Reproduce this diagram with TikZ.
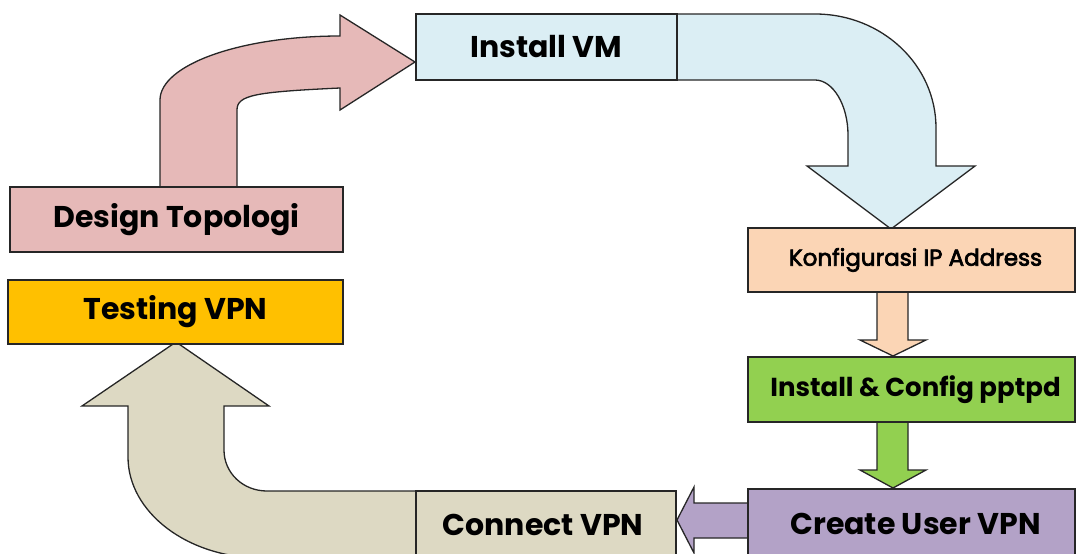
\documentclass[tikz,border=0pt]{standalone}
\usepackage{fontspec}
\setmainfont{Poppins}
\newfontfamily\mediumface{Poppins}[FakeBold=3]
\usetikzlibrary{calc}
\definecolor{pinkfill}{HTML}{E6B9B8}
\definecolor{bluefill}{HTML}{DBEEF4}
\definecolor{peachfill}{HTML}{FBD5B5}
\definecolor{greenfill}{HTML}{92D050}
\definecolor{purplefill}{HTML}{B3A2C7}
\definecolor{beigefill}{HTML}{DDD9C3}
\definecolor{yellowfill}{HTML}{FFC000}
\definecolor{edge}{HTML}{262626}
\begin{document}
\begin{tikzpicture}[x=1pt,y=-1pt,
  stage/.style={draw=edge, line width=1.3pt, rectangle, inner sep=0pt, text=black},
  bigtext/.style={font=\bfseries\fontsize{30}{34}\selectfont},
  blockarrow/.style={draw=edge, line width=1.3pt, line join=miter}]
\useasboundingbox (0,0) rectangle (1076,554);
\begin{scope}
\clip (0,0) rectangle (1076,554);

% --- block arrows (drawn first, boxes sit on top) ---
% Design Topologi -> Install VM
\path[blockarrow, fill=pinkfill]
  (160,190) -- (160,100) .. controls (160,65) and (240,36) .. (340,36)
  -- (340,15) -- (415,62) -- (340,110) -- (340,88)
  .. controls (255,92) and (237,95) .. (237,110) -- (237,190) -- cycle;

% Install VM -> Konfigurasi IP Address
\path[blockarrow, fill=bluefill]
  (677,14) -- (815,14) .. controls (882,14) and (936,65) .. (936,128)
  -- (936,166) -- (975,166) -- (891,229) -- (807,166) -- (848,166)
  -- (848,135) .. controls (848,105) and (833,80) .. (815,80)
  -- (677,80) -- cycle;

% Konfigurasi IP Address -> Install & Config pptpd
\path[blockarrow, fill=peachfill]
  (877,292) -- (877,340) -- (860,340) -- (893,356) -- (926,340)
  -- (908,340) -- (908,292) -- cycle;

% Install & Config pptpd -> Create User VPN
\path[blockarrow, fill=greenfill]
  (877,422) -- (877,470) -- (860,470) -- (893,488) -- (926,470)
  -- (908,470) -- (908,422) -- cycle;

% Create User VPN -> Connect VPN
\path[blockarrow, fill=purplefill]
  (750,503) -- (694,503) -- (694,487) -- (677,520) -- (694,553)
  -- (694,538) -- (750,538) -- cycle;

% Connect VPN -> Testing VPN
\path[blockarrow, fill=beigefill]
  (417,491) -- (267,491) .. controls (243,491) and (224,473) .. (224,450)
  -- (224,406) -- (269,406) -- (176,342) -- (82,406) -- (128,406)
  -- (128,457) .. controls (128,512) and (187,558) .. (262,558)
  -- (417,558) -- cycle;

% --- process stages ---
\node[stage, bigtext, fill=pinkfill, minimum width=333pt, minimum height=65pt]
  (dt) at (176.5,219.5) {Design Topologi};
\node[stage, bigtext, fill=yellowfill, minimum width=335pt, minimum height=64pt]
  (tv) at (175.5,312) {Testing VPN};
\node[stage, bigtext, fill=bluefill, minimum width=261pt, minimum height=66pt]
  (vm) at (546.5,47) {Install VM};
\node[stage, fill=peachfill, minimum width=327pt, minimum height=64pt,
      font=\mediumface\fontsize{23}{27}\selectfont]
  (ip) at (911.5,260) {\hspace*{8pt}Konfigurasi IP Address};
\node[stage, fill=greenfill, minimum width=327pt, minimum height=65pt,
      font=\bfseries\fontsize{26}{30}\selectfont]
  (pp) at (911.5,389.5) {\hspace*{8pt}Install \& Config pptpd};
\node[stage, bigtext, fill=purplefill, minimum width=327pt, minimum height=69pt]
  (cu) at (911.5,523.5) {\hspace*{8pt}Create User VPN};
\node[stage, bigtext, fill=beigefill, minimum width=260pt, minimum height=67pt]
  (cv) at (546,524.5) {Connect VPN\hspace*{6pt}};
\end{scope}
\end{tikzpicture}
\end{document}
